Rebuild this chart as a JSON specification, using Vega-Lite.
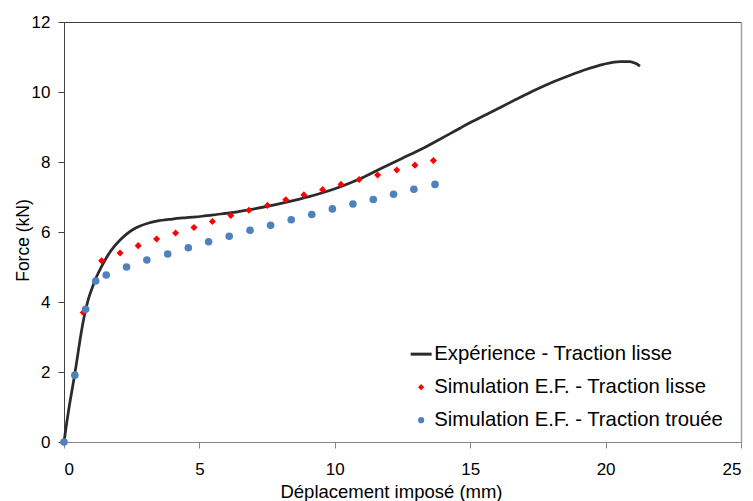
{
  "$schema": "https://vega.github.io/schema/vega-lite/v6.json",
  "autosize": "none",
  "padding": {"left": 64, "top": 22, "right": 12, "bottom": 59},
  "width": 677,
  "height": 420,
  "background": "white",
  "config": {
    "font": "Liberation Sans",
    "view": {"stroke": null},
    "axis": {"grid": false, "labelFont": "Liberation Sans", "titleFont": "Liberation Sans", "labelColor": "#000000", "titleColor": "#000000", "titleFontWeight": "normal"}
  },
  "datasets": {
    "exp": [
      {"d": 0, "f": 0}, {"d": 0.1, "f": 0.55}, {"d": 0.2, "f": 1.05}, {"d": 0.3, "f": 1.5}, {"d": 0.4, "f": 1.95},
      {"d": 0.5, "f": 2.45}, {"d": 0.62, "f": 3.05}, {"d": 0.75, "f": 3.6}, {"d": 0.9, "f": 4.08}, {"d": 1.05, "f": 4.42},
      {"d": 1.2, "f": 4.72}, {"d": 1.4, "f": 5.03}, {"d": 1.64, "f": 5.36}, {"d": 1.85, "f": 5.58}, {"d": 2.07, "f": 5.77},
      {"d": 2.31, "f": 5.94}, {"d": 2.55, "f": 6.07}, {"d": 2.81, "f": 6.17}, {"d": 3.1, "f": 6.25}, {"d": 3.42, "f": 6.31},
      {"d": 4.0, "f": 6.37}, {"d": 4.53, "f": 6.41}, {"d": 5.1, "f": 6.45}, {"d": 5.64, "f": 6.5}, {"d": 6.25, "f": 6.56},
      {"d": 6.87, "f": 6.64}, {"d": 7.5, "f": 6.73}, {"d": 8.1, "f": 6.83}, {"d": 8.7, "f": 6.94}, {"d": 9.33, "f": 7.07},
      {"d": 9.95, "f": 7.22}, {"d": 10.56, "f": 7.4}, {"d": 11.1, "f": 7.58}, {"d": 11.67, "f": 7.8}, {"d": 12.53, "f": 8.12},
      {"d": 13.15, "f": 8.35}, {"d": 13.76, "f": 8.6}, {"d": 14.4, "f": 8.87}, {"d": 14.99, "f": 9.12}, {"d": 15.6, "f": 9.36},
      {"d": 16.22, "f": 9.6}, {"d": 16.85, "f": 9.85}, {"d": 17.46, "f": 10.08}, {"d": 18.1, "f": 10.3}, {"d": 18.69, "f": 10.48},
      {"d": 19.3, "f": 10.65}, {"d": 19.92, "f": 10.79}, {"d": 20.53, "f": 10.87}, {"d": 20.9, "f": 10.87}, {"d": 21.1, "f": 10.82},
      {"d": 21.27, "f": 10.74}
    ],
    "lisse": [
      {"d": 0.71, "f": 3.7}, {"d": 1.39, "f": 5.18}, {"d": 2.07, "f": 5.4}, {"d": 2.74, "f": 5.61}, {"d": 3.42, "f": 5.8},
      {"d": 4.12, "f": 5.97}, {"d": 4.8, "f": 6.13}, {"d": 5.48, "f": 6.3}, {"d": 6.16, "f": 6.47}, {"d": 6.83, "f": 6.62},
      {"d": 7.51, "f": 6.76}, {"d": 8.19, "f": 6.92}, {"d": 8.86, "f": 7.06}, {"d": 9.55, "f": 7.21}, {"d": 10.23, "f": 7.36},
      {"d": 10.9, "f": 7.5}, {"d": 11.58, "f": 7.63}, {"d": 12.29, "f": 7.77}, {"d": 12.96, "f": 7.91}, {"d": 13.64, "f": 8.04}
    ],
    "trouee": [
      {"d": 0, "f": 0}, {"d": 0.4, "f": 1.91}, {"d": 0.8, "f": 3.79}, {"d": 1.17, "f": 4.6}, {"d": 1.56, "f": 4.77},
      {"d": 2.31, "f": 5.0}, {"d": 3.06, "f": 5.2}, {"d": 3.83, "f": 5.37}, {"d": 4.59, "f": 5.55}, {"d": 5.34, "f": 5.72},
      {"d": 6.1, "f": 5.88}, {"d": 6.87, "f": 6.05}, {"d": 7.63, "f": 6.19}, {"d": 8.39, "f": 6.35}, {"d": 9.15, "f": 6.5},
      {"d": 9.91, "f": 6.66}, {"d": 10.67, "f": 6.8}, {"d": 11.42, "f": 6.93}, {"d": 12.17, "f": 7.08}, {"d": 12.92, "f": 7.22},
      {"d": 13.7, "f": 7.36}
    ]
  },
  "layer": [
    {
      "data": {"name": "exp"},
      "mark": {"type": "line", "strokeWidth": 2.75, "interpolate": "monotone"},
      "encoding": {
        "x": {"field": "d", "type": "quantitative", "scale": {"domain": [0, 25], "nice": false},
          "axis": {"values": [0, 5, 10, 15, 20, 25], "title": "Déplacement imposé (mm)", "domainColor": "#868686", "tickColor": "#868686", "tickSize": 6, "labelFontSize": 17, "labelPadding": 13, "titleFontSize": 18.5, "titleX": 327, "titleY": 55, "titleBaseline": "alphabetic", "titleAlign": "center", "titleAnchor": null}},
        "y": {"field": "f", "type": "quantitative", "scale": {"domain": [0, 12], "nice": false},
          "axis": {"values": [0, 2, 4, 6, 8, 10, 12], "title": "Force (kN)", "domainColor": "#404040", "tickColor": "#404040", "tickSize": 6, "labelFontSize": 17, "labelPadding": 8, "titleFontSize": 17.5, "titleX": -36, "titleY": 218, "titleBaseline": "alphabetic", "titleAlign": "center", "titleAngle": -90, "titleAnchor": null}},
        "color": {"datum": "Expérience - Traction lisse", "type": "nominal",
          "scale": {"domain": ["Expérience - Traction lisse", "Simulation E.F. - Traction lisse", "Simulation E.F. - Traction trouée"], "range": ["#2b2b2b", "#ff0000", "#4f81bd"]},
          "legend": {
            "title": null, "orient": "none", "legendX": 347, "legendY": 322,
            "labelFont": "Liberation Sans", "labelFontSize": 20.3, "labelColor": "#000000", "labelOffset": 3, "labelLimit": 500,
            "symbolSize": 441, "rowPadding": 12,
            "encode": {"symbols": {"update": {
              "shape": {"signal": "datum.value === 'Expérience - Traction lisse' ? 'stroke' : (datum.value === 'Simulation E.F. - Traction lisse' ? 'diamond' : 'circle')"},
              "size": {"signal": "datum.value === 'Expérience - Traction lisse' ? 441 : 38"},
              "fill": {"signal": "scale('color', datum.value)"},
              "stroke": {"signal": "scale('color', datum.value)"},
              "strokeWidth": {"signal": "datum.value === 'Expérience - Traction lisse' ? 3 : 0"},
              "opacity": {"value": 1},
              "fillOpacity": {"value": 1}
            }}}
          }}
      }
    },
    {
      "data": {"name": "lisse"},
      "mark": {"type": "point", "shape": "diamond", "filled": true, "size": 50, "opacity": 1, "strokeWidth": 0},
      "encoding": {
        "x": {"field": "d", "type": "quantitative", "axis": {"orient": "top", "labels": false, "ticks": false, "title": null, "domainColor": "#404040"}},
        "y": {"field": "f", "type": "quantitative", "axis": {"orient": "right", "labels": false, "ticks": false, "title": null, "domainColor": "#a0a0a0", "domainWidth": 1.5}},
        "color": {"datum": "Simulation E.F. - Traction lisse", "type": "nominal"}
      }
    },
    {
      "data": {"name": "trouee"},
      "mark": {"type": "point", "shape": "circle", "filled": true, "size": 58, "opacity": 1, "strokeWidth": 0},
      "encoding": {
        "x": {"field": "d", "type": "quantitative", "axis": null},
        "y": {"field": "f", "type": "quantitative", "axis": null},
        "color": {"datum": "Simulation E.F. - Traction trouée", "type": "nominal"}
      }
    }
  ],
  "resolve": {"axis": {"x": "independent", "y": "independent"}}
}
